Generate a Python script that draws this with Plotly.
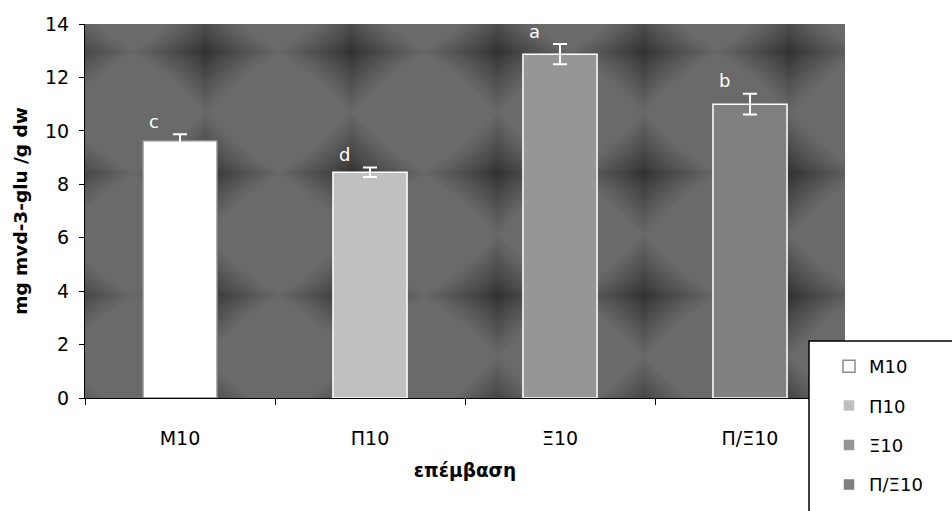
import base64
import struct
import zlib

import numpy as np
import plotly.graph_objects as go

# ---- data ----
categories = ["M10", "Π10", "Ξ10", "Π/Ξ10"]
values = [9.63, 8.45, 12.87, 11.00]
errors = [0.24, 0.18, 0.38, 0.39]
letters = ["c", "d", "a", "b"]
bar_colors = ["#ffffff", "#c0c0c0", "#969696", "#808080"]
outline_colors = ["#8c8c8c", "#ffffff", "#ffffff", "#ffffff"]

y_title = "mg mvd-3-glu /g dw"
x_title = "επέμβαση"

W, H = 952, 511
ML, MR, MT, MB = 85, 107, 24, 113
PW, PH = W - ML - MR, H - MT - MB

FONT = "DejaVu Sans"


# ---- decorative textured background (Excel-like texture fill) ----
def make_texture(w, h):
    xs = np.arange(w)[None, :].astype(float)
    ys = np.arange(h)[:, None].astype(float)
    px, py = 146.0, 122.0
    x0, y0 = 120.0, 27.0
    u = (np.mod(xs - x0 + px / 2, px) - px / 2) / (px / 2)
    v = (np.mod(ys - y0 + py / 2, py) - py / 2) / (py / 2)
    f = np.clip(1 - (np.abs(u) ** 0.85 + np.abs(v) ** 0.85) / 1.05, 0, 1)
    g = 106 - 58 * f
    return np.clip(g, 0, 255).astype(np.uint8)


def png_gray(arr):
    h, w = arr.shape
    raw = b"".join(b"\x00" + arr[i].tobytes() for i in range(h))

    def chunk(t, d):
        c = struct.pack(">I", len(d)) + t + d
        return c + struct.pack(">I", zlib.crc32(t + d) & 0xFFFFFFFF)

    ihdr = struct.pack(">IIBBBBB", w, h, 8, 0, 0, 0, 0)
    return (b"\x89PNG\r\n\x1a\n" + chunk(b"IHDR", ihdr)
            + chunk(b"IDAT", zlib.compress(raw, 9)) + chunk(b"IEND", b""))


tex = make_texture(PW, PH)
tex_uri = "data:image/png;base64," + base64.b64encode(png_gray(tex)).decode()

fig = go.Figure()

for i, cat in enumerate(categories):
    fig.add_trace(go.Bar(
        x=[cat], y=[values[i]], name=cat,
        width=0.39,
        marker=dict(color=bar_colors[i],
                    line=dict(color=outline_colors[i], width=1.5)),
        error_y=dict(type="data", array=[errors[i]], color="#ffffff",
                     thickness=2, width=7),
        legendgroup=cat,
        showlegend=True,
    ))

for i, cat in enumerate(categories):
    fig.add_annotation(
        x=cat, y=values[i] + errors[i], text=letters[i],
        showarrow=False, xshift=-26, yshift=13, yanchor="middle",
        font=dict(family=FONT, size=18, color="#ffffff"),
    )

# legend box (extends beyond the page as in the reference)
fig.add_shape(
    type="rect", xref="paper", yref="paper",
    x0=(809 - ML) / PW, x1=(970 - ML) / PW,
    y0=(H - MB - 530) / PH, y1=(H - MB - 341) / PH,
    fillcolor="#ffffff", line=dict(color="#000000", width=1.5),
    layer="above",
)

fig.add_layout_image(
    source=tex_uri, xref="paper", yref="paper", x=0, y=1,
    sizex=1, sizey=1, sizing="stretch", layer="below",
    xanchor="left", yanchor="top",
)

fig.update_layout(
    width=W, height=H,
    margin=dict(l=ML, r=MR, t=MT, b=MB, autoexpand=False),
    paper_bgcolor="#ffffff",
    plot_bgcolor="#5c5c5c",
    barmode="overlay",
    font=dict(family=FONT, size=18, color="#000000"),
    showlegend=True,
    legend=dict(
        x=(829 - ML) / PW, y=(H - MB - 348) / PH,
        xanchor="left", yanchor="top",
        bgcolor="rgba(0,0,0,0)", borderwidth=0,
        font=dict(family=FONT, size=18, color="#000000"),
        traceorder="grouped", tracegroupgap=13,
    ),
    xaxis=dict(
        type="category", categoryorder="array", categoryarray=categories,
        range=[-0.5, 3.5],
        showline=True, linecolor="#000000", linewidth=1,
        ticks="outside", ticklen=6, tickcolor="#000000", tickson="boundaries",
        showgrid=False, zeroline=False,
        tickfont=dict(family=FONT, size=19),
        ticklabelstandoff=23,
        title=dict(text="<b>" + x_title + "</b>",
                   font=dict(family=FONT, size=18.5), standoff=16),
    ),
    yaxis=dict(
        range=[0, 14], dtick=2,
        showline=True, linecolor="#000000", linewidth=1,
        ticks="outside", ticklen=5, tickcolor="#000000",
        showgrid=False, zeroline=False,
        tickfont=dict(family=FONT, size=19),
        ticklabelstandoff=6,
        title=dict(text="<b>" + y_title + "</b>",
                   font=dict(family=FONT, size=18.5), standoff=12),
    ),
)

fig.write_html("out.html")
